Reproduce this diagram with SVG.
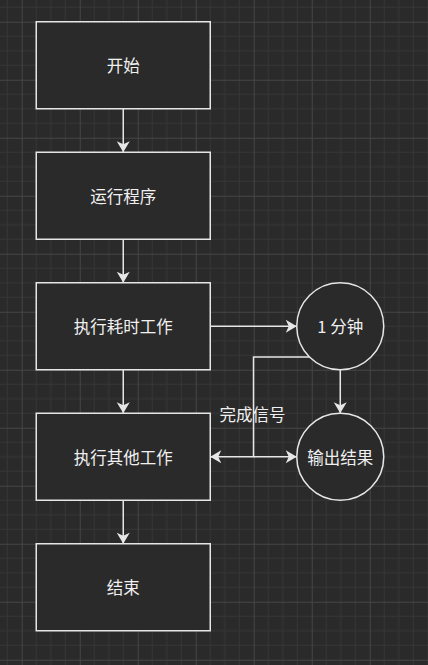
<svg xmlns="http://www.w3.org/2000/svg" width="428" height="665" viewBox="0 0 428 665">
  <style>
    .node { fill: #2a2a2a; stroke: #e6e6e6; stroke-width: 1.5; }
    .lbl { fill: #f0f0f0; font-family: "Noto Sans CJK SC", "Noto Sans", sans-serif; font-size: 16.5px; text-anchor: middle; dominant-baseline: central; }
    .edge { fill: none; stroke: #e6e6e6; stroke-width: 1.5; }
  </style>
  <defs>
    <pattern id="grid" x="21.75" y="21.75" width="58" height="58" patternUnits="userSpaceOnUse">
      <rect width="58" height="58" fill="#2a2a2a"/>
      <path d="M14.5,0 V58 M29,0 V58 M43.5,0 V58 M0,14.5 H58 M0,29 H58 M0,43.5 H58" stroke="#363636" stroke-width="1"/>
      <path d="M0.5,0 V58 M0,0.5 H58" stroke="#454545" stroke-width="1"/>
    </pattern>
    <marker id="arr" viewBox="-12 -7 14 14" refX="0" refY="0" markerWidth="14" markerHeight="14" markerUnits="userSpaceOnUse" orient="auto">
      <path d="M0,0 L-11,-6.5 L-8,0 L-11,6.5 Z" fill="#e6e6e6"/>
    </marker>
  </defs>
  <rect width="428" height="665" fill="url(#grid)"/>

  <g id="connectors">
    <path class="edge" d="M123.25,108.75 V152.25" marker-end="url(#arr)"/>
    <path class="edge" d="M123.25,239.25 V282.75" marker-end="url(#arr)"/>
    <path class="edge" d="M123.25,369.75 V413.25" marker-end="url(#arr)"/>
    <path class="edge" d="M123.25,500.25 V543.75" marker-end="url(#arr)"/>
    <path class="edge" d="M210.25,326.25 H296.75" marker-end="url(#arr)"/>
    <path class="edge" d="M340.25,369.75 V413.25" marker-end="url(#arr)"/>
    <path class="edge" d="M309.5,357 H253.5 V456.75 H210.25" marker-end="url(#arr)"/>
    <path class="edge" d="M253.5,456.75 H296.75" marker-end="url(#arr)"/>
    <text class="lbl" x="252.5" y="414">完成信号</text>
  </g>

  <g id="start">
    <rect class="node" x="36.25" y="21.75" width="174" height="87"/>
    <text class="lbl" x="123.25" y="65.25">开始</text>
  </g>
  <g id="run">
    <rect class="node" x="36.25" y="152.25" width="174" height="87"/>
    <text class="lbl" x="123.25" y="195.75">运行程序</text>
  </g>
  <g id="longwork">
    <rect class="node" x="36.25" y="282.75" width="174" height="87"/>
    <text class="lbl" x="123.25" y="326.25">执行耗时工作</text>
  </g>
  <g id="otherwork">
    <rect class="node" x="36.25" y="413.25" width="174" height="87"/>
    <text class="lbl" x="123.25" y="456.75">执行其他工作</text>
  </g>
  <g id="end">
    <rect class="node" x="36.25" y="543.75" width="174" height="87"/>
    <text class="lbl" x="123.25" y="587.25">结束</text>
  </g>
  <g id="oneminute">
    <circle class="node" cx="340.25" cy="326.25" r="43.5"/>
    <text class="lbl" x="340.25" y="326.25">1 分钟</text>
  </g>
  <g id="output">
    <circle class="node" cx="340.25" cy="456.75" r="43.5"/>
    <text class="lbl" x="340.25" y="456.75">输出结果</text>
  </g>
</svg>
